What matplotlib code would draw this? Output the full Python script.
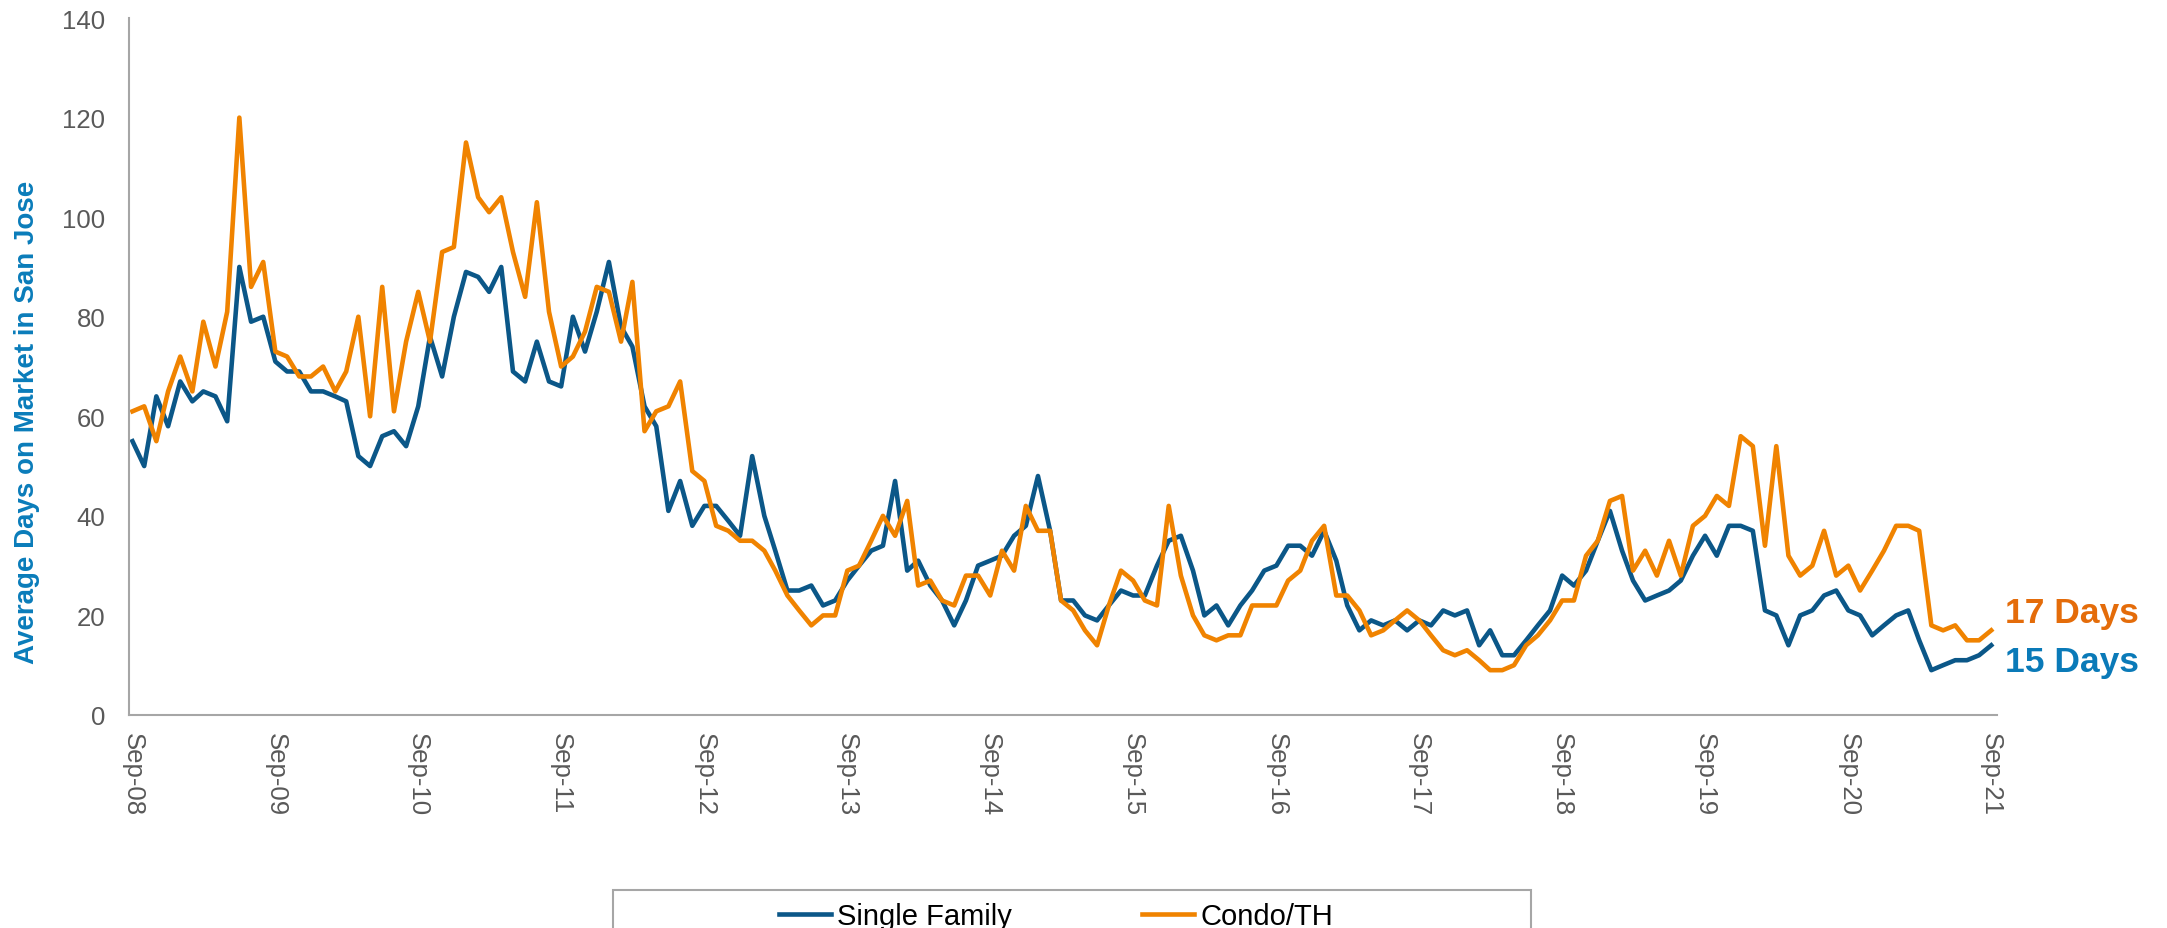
import pandas as pd
import matplotlib
matplotlib.use('Agg')
import matplotlib.pyplot as plt
import matplotlib.dates as mdates
from matplotlib.patches import Rectangle

# monthly average days on market, Sep-08 .. Sep-21 (one row per Sep-Aug year)
single_family = [55, 50, 64, 58, 67, 63, 65, 64, 59, 90, 79, 80,
                 71, 69, 69, 65, 65, 64, 63, 52, 50, 56, 57, 54,
                 62, 76, 68, 80, 89, 88, 85, 90, 69, 67, 75, 67,
                 66, 80, 73, 81, 91, 78, 74, 62, 58, 41, 47, 38,
                 42, 42, 39, 36, 52, 40, 33, 25, 25, 26, 22, 23,
                 27, 30, 33, 34, 47, 29, 31, 26, 23, 18, 23, 30,
                 31, 32, 36, 38, 48, 37, 23, 23, 20, 19, 22, 25,
                 24, 24, 30, 35, 36, 29, 20, 22, 18, 22, 25, 29,
                 30, 34, 34, 32, 37, 31, 22, 17, 19, 18, 19, 17,
                 19, 18, 21, 20, 21, 14, 17, 12, 12, 15, 18, 21,
                 28, 26, 29, 35, 41, 33, 27, 23, 24, 25, 27, 32,
                 36, 32, 38, 38, 37, 21, 20, 14, 20, 21, 24, 25,
                 21, 20, 16, 18, 20, 21, 15, 9, 10, 11, 11, 12,
                 14]
condo_th = [61, 62, 55, 65, 72, 65, 79, 70, 81, 120, 86, 91,
            73, 72, 68, 68, 70, 65, 69, 80, 60, 86, 61, 75,
            85, 75, 93, 94, 115, 104, 101, 104, 93, 84, 103, 81,
            70, 72, 77, 86, 85, 75, 87, 57, 61, 62, 67, 49,
            47, 38, 37, 35, 35, 33, 29, 24, 21, 18, 20, 20,
            29, 30, 35, 40, 36, 43, 26, 27, 23, 22, 28, 28,
            24, 33, 29, 42, 37, 37, 23, 21, 17, 14, 22, 29,
            27, 23, 22, 42, 28, 20, 16, 15, 16, 16, 22, 22,
            22, 27, 29, 35, 38, 24, 24, 21, 16, 17, 19, 21,
            19, 16, 13, 12, 13, 11, 9, 9, 10, 14, 16, 19,
            23, 23, 32, 35, 43, 44, 29, 33, 28, 35, 28, 38,
            40, 44, 42, 56, 54, 34, 54, 32, 28, 30, 37, 28,
            30, 25, 29, 33, 38, 38, 37, 18, 17, 18, 15, 15,
            17]
months = pd.date_range('2008-09-01', periods=len(single_family), freq='MS')
labels = ['Single Family', 'Condo/TH']
end_labels = ['15 Days', '17 Days']

blue = '#0B5788'
orange = '#F08300'
grey = '#A6A6A6'
narrow = ['Liberation Sans Narrow', 'Liberation Sans']

plt.rcParams['font.family'] = 'Liberation Sans'

fig = plt.figure(figsize=(21.67, 9.29), dpi=100)
ax = fig.add_axes([0.0595, 0.2293, 0.8621, 0.7502])

l1, = ax.plot(months, single_family, color=blue, lw=3.3, label=labels[0])
l2, = ax.plot(months, condo_th, color=orange, lw=3.3, label=labels[1])

ax.set_ylim(0, 140)
ax.set_yticks(range(0, 141, 20))
ax.set_xlim(months[0] - pd.Timedelta(days=9), months[-1] + pd.Timedelta(days=15))
ax.set_xticks(months[::12])
ax.xaxis.set_major_formatter(mdates.DateFormatter('%b-%y'))
for lab in ax.get_xticklabels():
  lab.set_rotation(-90)
  lab.set_va('top')
  lab.set_ha('center')

for s in ['top', 'right']:
  ax.spines[s].set_visible(False)
for s in ['left', 'bottom']:
  ax.spines[s].set_color(grey)
  ax.spines[s].set_linewidth(1.5)
ax.tick_params(axis='both', length=0, labelsize=18.5, labelcolor='#595959')
ax.tick_params(axis='y', pad=17)
ax.tick_params(axis='x', pad=12)

fig.text(0.0125, 0.5455, 'Average Days on Market in San Jose', rotation=90,
         ha='center', va='center', fontsize=20, fontweight='bold',
         color='#0A7CBA', family=narrow)

# end-of-series callouts
ax.annotate(end_labels[1], xy=(months[-1], condo_th[-1]), xytext=(14, 8),
            textcoords='offset pixels', fontsize=25.5, fontweight='bold',
            color='#E46C0A', va='baseline', annotation_clip=False)
ax.annotate(end_labels[0], xy=(months[-1], single_family[-1]), xytext=(14, -26),
            textcoords='offset pixels', fontsize=25.5, fontweight='bold',
            color='#0A7AB8', va='baseline', annotation_clip=False)

fig.legend(handles=[l1, l2], labels=labels, loc='center',
           bbox_to_anchor=(0.4873, 0.0129), ncol=2, frameon=False,
           handlelength=1.8, handletextpad=0.2, columnspacing=4.45,
           prop={'family': narrow, 'size': 21})
fig.add_artist(Rectangle((0.2829, -0.05), 0.4236, 0.0909, transform=fig.transFigure,
                         fill=False, edgecolor=grey, lw=1.5))

fig.savefig('out.png', dpi=100)
